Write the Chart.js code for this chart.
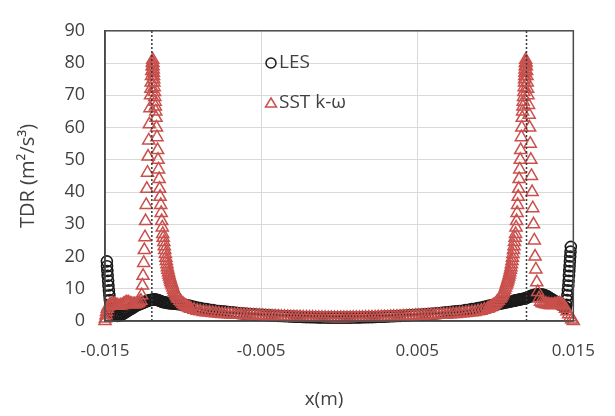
<!DOCTYPE html>
<html>
<head>
<meta charset="utf-8">
<script src="https://cdn.jsdelivr.net/npm/chart.js@4.4.1/dist/chart.umd.min.js"></script>
<style>
  html, body { margin: 0; padding: 0; background: #fff; }
  #wrap { width: 615px; height: 416px; position: relative; }
</style>
</head>
<body>
<div id="wrap"><canvas id="tdrChart"></canvas></div>
<script>
// LES profile (black open circles)
const lesX = [
  -0.01488, -0.01487, -0.01485, -0.01483, -0.0148, -0.01478, -0.01475, -0.01472, -0.01469, -0.01466, -0.01462,
  -0.0146, -0.0145, -0.0144, -0.0143, -0.0142, -0.0141, -0.014, -0.0139, -0.0138, -0.0137, -0.0136, -0.0135,
  -0.0134, -0.0133, -0.0132, -0.0131, -0.013, -0.0129, -0.0128, -0.0127, -0.0126, -0.0125, -0.0124, -0.0123,
  -0.0122, -0.0121, -0.012, -0.0119, -0.0118, -0.0117, -0.0116, -0.0115, -0.0114, -0.0113, -0.0112, -0.0111,
  -0.011, -0.0109, -0.0108, -0.0107, -0.0106, -0.0105, -0.0104, -0.0103, -0.0102, -0.0101, -0.01, -0.0099,
  -0.0098, -0.0097, -0.0096, -0.0095, -0.0093, -0.0091, -0.0089, -0.0087, -0.0085, -0.0083, -0.0081, -0.0079,
  -0.0077, -0.0075, -0.0073, -0.0071, -0.0069, -0.0067, -0.0065, -0.0063, -0.0061, -0.0059, -0.0057, -0.0055,
  -0.0053, -0.0051, -0.0049, -0.0047, -0.0045, -0.0043, -0.0041, -0.0039, -0.0037, -0.0035, -0.0033, -0.0031,
  -0.0029, -0.0027, -0.0025, -0.0023, -0.0021, -0.0019, -0.0017, -0.0015, -0.0013, -0.0011, -0.0009, -0.0007,
  -0.0005, -0.0003, -0.0001,
  0.0001, 0.0003, 0.0005, 0.0007, 0.0009, 0.0011, 0.0013, 0.0015, 0.0017, 0.0019, 0.0021, 0.0023,
  0.0025, 0.0027, 0.0029, 0.0031, 0.0033, 0.0035, 0.0037, 0.0039, 0.0041, 0.0043, 0.0045, 0.0047,
  0.0049, 0.0051, 0.0053, 0.0055, 0.0057, 0.0059, 0.0061, 0.0063, 0.0065, 0.0067, 0.0069, 0.0071,
  0.0073, 0.0075, 0.0077, 0.0079, 0.0081, 0.0083, 0.0085, 0.0087, 0.0089, 0.0091, 0.0093, 0.0095,
  0.0096, 0.0097, 0.0098, 0.0099, 0.01, 0.0101, 0.0102, 0.0103, 0.0104, 0.0105, 0.0106, 0.0107,
  0.0108, 0.0109, 0.011, 0.0111, 0.0112, 0.0113, 0.0114, 0.0115, 0.0116, 0.0117, 0.0118, 0.0119,
  0.012, 0.0121, 0.0122, 0.0123, 0.0124, 0.0125, 0.0126, 0.0127, 0.0128, 0.0129, 0.013, 0.0131,
  0.0132, 0.0133, 0.0134, 0.0135, 0.0136, 0.0137, 0.0138, 0.0139, 0.014, 0.0141, 0.0142, 0.0143,
  0.0144, 0.0145, 0.01452, 0.01456, 0.01459, 0.01462, 0.01465, 0.01468, 0.0147, 0.01472, 0.01474,
  0.01476, 0.01478, 0.0148, 0.01482, 0.01484
];
const lesY = [
  18.5, 17, 15.5, 14, 12.5, 11, 9.5, 8, 6.5, 5, 3.8,
  2.8, 2.3, 1.9, 1.7, 1.6, 1.7, 1.9, 2.1, 2.4, 2.7, 3.0, 3.3,
  3.6, 3.9, 4.2, 4.5, 4.8, 5.0, 5.2, 5.4, 5.6, 5.8, 6.0, 6.2,
  6.4, 6.5, 6.6, 6.7, 6.7, 6.6, 6.5, 6.3, 6.1, 5.9, 5.8, 5.7,
  5.6, 5.55, 5.5, 5.45, 5.4, 5.35, 5.3, 5.25, 5.2, 5.15, 5.1, 5.0,
  4.9, 4.8, 4.7, 4.6, 4.4, 4.2, 4.0, 3.8, 3.7, 3.5, 3.4, 3.2,
  3.1, 3.0, 2.9, 2.8, 2.7, 2.6, 2.5, 2.4, 2.3, 2.2, 2.15, 2.1,
  2.0, 1.95, 1.9, 1.85, 1.8, 1.7, 1.65, 1.6, 1.55, 1.5, 1.45, 1.4,
  1.35, 1.3, 1.3, 1.25, 1.2, 1.2, 1.15, 1.15, 1.1, 1.1, 1.1, 1.05,
  1.05, 1.05, 1.05,
  1.05, 1.05, 1.05, 1.05, 1.1, 1.1, 1.1, 1.15, 1.15, 1.2, 1.2, 1.25,
  1.3, 1.3, 1.35, 1.4, 1.45, 1.5, 1.55, 1.6, 1.65, 1.7, 1.8, 1.85,
  1.9, 1.95, 2.0, 2.1, 2.15, 2.2, 2.3, 2.4, 2.5, 2.6, 2.7, 2.8,
  2.9, 3.0, 3.1, 3.2, 3.4, 3.5, 3.7, 3.8, 4.0, 4.2, 4.4, 4.6,
  4.7, 4.8, 4.9, 5.0, 5.1, 5.2, 5.3, 5.4, 5.5, 5.6, 5.7, 5.8,
  5.9, 6.0, 6.1, 6.2, 6.3, 6.4, 6.5, 6.6, 6.7, 6.8, 6.9, 7.0,
  7.2, 7.4, 7.6, 7.8, 8.0, 8.1, 8.2, 8.3, 8.3, 8.3, 8.2, 8.1,
  7.9, 7.7, 7.4, 7.1, 6.8, 6.5, 6.2, 5.9, 5.6, 5.3, 5.0, 4.7,
  4.4, 4.1, 4, 5, 6.5, 8, 9.5, 11, 12.5, 14, 15.5,
  17, 18.5, 20, 21.5, 23
];

// SST k-omega profile (red open triangles)
const sstX = [
  -0.015, -0.01497, -0.01493, -0.0149, -0.01485, -0.0148, -0.0147, -0.0146, -0.0145, -0.0144, -0.0143,
  -0.0142, -0.0141, -0.014, -0.0139, -0.0138, -0.0137, -0.0136, -0.0135, -0.0134, -0.0133, -0.0132,
  -0.0131, -0.013, -0.0129, -0.0128, -0.0127,
  -0.01265, -0.0126, -0.01256, -0.01252, -0.01248, -0.01244, -0.0124, -0.01236, -0.01232, -0.01228,
  -0.01224, -0.0122, -0.01216, -0.01212, -0.01208, -0.01206, -0.01204, -0.01202, -0.012, -0.01198,
  -0.01196, -0.01194,
  -0.01193, -0.01192, -0.01191, -0.0119, -0.01189, -0.01188, -0.01187, -0.01185, -0.01183, -0.01181,
  -0.01179, -0.01177, -0.01175, -0.01173, -0.0117, -0.01167, -0.01163, -0.0116, -0.01157, -0.01153,
  -0.0115, -0.01147, -0.01143, -0.0114, -0.01137, -0.01133, -0.0113, -0.01127, -0.01123, -0.0112,
  -0.01117, -0.01113, -0.0111, -0.01107, -0.01103, -0.011, -0.01097, -0.01093, -0.0109, -0.01087,
  -0.01083, -0.0108, -0.01077, -0.01073, -0.0107, -0.01065, -0.0106, -0.01055, -0.0105, -0.01045,
  -0.0104, -0.01035, -0.0103, -0.0102, -0.0101,
  -0.01, -0.0099, -0.0098, -0.0097, -0.0096, -0.0095, -0.0093, -0.0091, -0.0089, -0.0087, -0.0085,
  -0.0083, -0.0081, -0.0079, -0.0077, -0.0075, -0.0073, -0.0071, -0.0069, -0.0067, -0.0065, -0.0063,
  -0.0061, -0.0059, -0.0057, -0.0055, -0.0053, -0.0051, -0.0049, -0.0047, -0.0045, -0.0043, -0.0041,
  -0.0039, -0.0037, -0.0035, -0.0033, -0.0031, -0.0029, -0.0027, -0.0025, -0.0023, -0.0021, -0.0019,
  -0.0017, -0.0015, -0.0013, -0.0011, -0.0009, -0.0007, -0.0005, -0.0003, -0.0001,
  0.0001, 0.0003, 0.0005, 0.0007, 0.0009, 0.0011, 0.0013, 0.0015, 0.0017, 0.0019, 0.0021, 0.0023,
  0.0025, 0.0027, 0.0029, 0.0031, 0.0033, 0.0035, 0.0037, 0.0039, 0.0041, 0.0043, 0.0045, 0.0047,
  0.0049, 0.0051, 0.0053, 0.0055, 0.0057, 0.0059, 0.0061, 0.0063, 0.0065, 0.0067, 0.0069, 0.0071,
  0.0073, 0.0075, 0.0077, 0.0079, 0.0081, 0.0083, 0.0085, 0.0087, 0.0089, 0.0091, 0.0093, 0.0095,
  0.0096, 0.0097, 0.0098, 0.0099, 0.01, 0.0101, 0.0102,
  0.0103, 0.01035, 0.0104, 0.01045, 0.0105, 0.01055, 0.0106, 0.01065, 0.0107, 0.01073, 0.01077,
  0.0108, 0.01083, 0.01087, 0.0109, 0.01093, 0.01097, 0.011, 0.01103, 0.01107, 0.0111, 0.01113,
  0.01117, 0.0112, 0.01123, 0.01127, 0.0113, 0.01133, 0.01137, 0.0114, 0.01143, 0.01147, 0.0115,
  0.01153, 0.01157, 0.0116, 0.01163, 0.01167, 0.0117, 0.01173, 0.01175, 0.01177, 0.01179, 0.01181,
  0.01183, 0.01185, 0.01187, 0.01188, 0.01189, 0.0119, 0.01191, 0.01192, 0.01193, 0.01195,
  0.01197, 0.01199, 0.01201, 0.01203, 0.01205, 0.01207, 0.0121, 0.01213, 0.01217, 0.0122, 0.01224,
  0.01228, 0.01232, 0.01236, 0.0124, 0.01245, 0.0125, 0.01255, 0.0126, 0.01266, 0.01272, 0.0128,
  0.0129, 0.013, 0.0131, 0.0132, 0.0133, 0.0134, 0.0135, 0.0136, 0.0137, 0.0138, 0.0139, 0.014,
  0.0141, 0.0142, 0.0143, 0.0144, 0.0145, 0.0146, 0.0147, 0.0148, 0.0149, 0.015
];
const sstY = [
  0, 0.8, 1.8, 2.8, 3.8, 4.5, 5.0, 5.3, 5.4, 5.2, 5.0,
  4.8, 4.7, 4.8, 5.0, 5.3, 5.6, 5.8, 5.7, 5.5, 5.3, 5.2,
  5.2, 5.3, 5.5, 5.8, 6.3,
  8, 11, 14, 18, 22, 26, 31, 36, 41, 46,
  51, 56, 61, 66, 70, 72, 74, 76, 77.5, 79,
  80.2, 81,
  80, 79, 78, 77, 76, 75, 74, 72.5, 71, 69.5,
  68, 66.5, 65, 63, 60, 57, 53, 50, 47, 44,
  41, 38.5, 36, 33.5, 31, 29, 27, 25.8, 24.5, 23.2,
  22, 20.8, 19.6, 18.6, 17.6, 16.7, 15.9, 15.1, 14.4, 13.8,
  13.2, 12.6, 12.1, 11.6, 11.1, 10.4, 9.7, 9.1, 8.6, 8.1,
  7.7, 7.3, 6.9, 6.3, 5.8,
  5.3, 4.9, 4.6, 4.3, 4.0, 3.8, 3.5, 3.2, 3.0, 2.8, 2.7,
  2.6, 2.5, 2.4, 2.3, 2.2, 2.15, 2.1, 2.05, 2.0, 1.95, 1.9,
  1.85, 1.8, 1.75, 1.7, 1.65, 1.6, 1.55, 1.5, 1.45, 1.4, 1.4,
  1.35, 1.3, 1.3, 1.25, 1.2, 1.2, 1.15, 1.15, 1.1, 1.1, 1.05,
  1.05, 1.0, 1.0, 1.0, 1.0, 0.95, 0.95, 0.95, 0.95,
  0.95, 0.95, 0.95, 0.95, 1.0, 1.0, 1.0, 1.0, 1.05, 1.05, 1.1, 1.1,
  1.15, 1.15, 1.2, 1.2, 1.25, 1.3, 1.3, 1.35, 1.4, 1.4, 1.45, 1.5,
  1.55, 1.6, 1.65, 1.7, 1.75, 1.8, 1.85, 1.9, 1.95, 2.0, 2.05, 2.1,
  2.15, 2.2, 2.3, 2.4, 2.5, 2.6, 2.7, 2.8, 3.0, 3.2, 3.5, 3.8,
  4.0, 4.3, 4.6, 4.9, 5.3, 5.8, 6.3,
  6.9, 7.3, 7.7, 8.1, 8.6, 9.1, 9.7, 10.4, 11.1, 11.6, 12.1,
  12.6, 13.2, 13.8, 14.4, 15.1, 15.9, 16.7, 17.6, 18.6, 19.6, 20.8,
  22, 23.2, 24.5, 25.8, 27, 29, 31, 33.5, 36, 38.5, 41,
  44, 47, 50, 53, 57, 60, 63, 65, 66.5, 68, 69.5,
  71, 72.5, 74, 75, 76, 77, 78, 79, 80, 81,
  80.2, 79, 77.5, 76, 74, 72, 70, 67, 64, 60, 55,
  50, 45, 40, 35, 30, 25, 20, 16, 12, 9, 7,
  6, 5.6, 5.4, 5.3, 5.2, 5.1, 5.0, 5.0, 5.0, 5.1, 5.2, 5.3,
  5.4, 5.3, 5.0, 4.5, 3.8, 3.0, 2.1, 1.2, 0.5, 0
];

// dotted vertical reference lines
const wallX = [-0.012, 0.012];
const wallY = [0, 90];

const xTicks = [-0.015, -0.005, 0.005, 0.015];
const yMin = 0, yMax = 90, yStep = 10;

const LES_COLOR = '#1a1a1a';
const SST_COLOR = '#c9504c';
const TEXT_COLOR = '#404040';

function toPoints(xs, ys) {
    return xs.map((x, i) => ({ x: x, y: ys[i] }));
}

// frame around the plot area, x title and in-plot legend
const frameAndLegend = {
    id: 'frameAndLegend',
    afterDraw(chart) {
        const { ctx, chartArea } = chart;
        ctx.save();
        ctx.strokeStyle = '#4a4a4a';
        ctx.lineWidth = 1.5;
        ctx.strokeRect(chartArea.left, chartArea.top, chartArea.right - chartArea.left, chartArea.bottom - chartArea.top);

        ctx.fillStyle = TEXT_COLOR;
        ctx.textBaseline = 'middle';

        // x axis title (sits a little left of centre in the original)
        ctx.font = '19px "Open Sans"';
        ctx.textAlign = 'center';
        ctx.fillText('x(m)', 324, 400);

        // legend
        ctx.font = '19px "Open Sans"';
        ctx.textAlign = 'left';
        ctx.lineWidth = 1.5;

        ctx.strokeStyle = LES_COLOR;
        ctx.beginPath();
        ctx.arc(271, 63, 5, 0, Math.PI * 2);
        ctx.stroke();
        ctx.fillText('LES', 279, 63);

        ctx.strokeStyle = SST_COLOR;
        ctx.beginPath();
        ctx.moveTo(271, 98);
        ctx.lineTo(276.5, 107);
        ctx.lineTo(265.5, 107);
        ctx.closePath();
        ctx.stroke();
        ctx.fillText('SST k-\u03c9', 279, 103);
        ctx.restore();
    }
};

document.addEventListener('DOMContentLoaded', function() {
    const ctx = document.getElementById('tdrChart').getContext('2d');

    new Chart(ctx, {
        type: 'scatter',
        data: {
            datasets: [
                {
                    label: 'wall L',
                    type: 'line',
                    data: toPoints([wallX[0], wallX[0]], wallY),
                    borderColor: '#3a3a3a',
                    borderWidth: 1.5,
                    borderDash: [2, 2],
                    pointRadius: 0,
                    clip: false,
                    order: -1
                },
                {
                    label: 'wall R',
                    type: 'line',
                    data: toPoints([wallX[1], wallX[1]], wallY),
                    borderColor: '#3a3a3a',
                    borderWidth: 1.5,
                    borderDash: [2, 2],
                    pointRadius: 0,
                    clip: false,
                    order: -1
                },
                {
                    label: 'SST k-\u03c9',
                    data: toPoints(sstX, sstY),
                    pointStyle: 'triangle',
                    pointRadius: 7,
                    borderColor: SST_COLOR,
                    backgroundColor: 'rgba(255,255,255,0)',
                    borderWidth: 1.5,
                    clip: false,
                    order: 0
                },
                {
                    label: 'LES',
                    data: toPoints(lesX, lesY),
                    pointStyle: 'circle',
                    pointRadius: 5.5,
                    borderColor: LES_COLOR,
                    backgroundColor: 'rgba(255,255,255,0)',
                    borderWidth: 1.6,
                    clip: false,
                    order: 1
                }
            ]
        },
        options: {
            responsive: true,
            maintainAspectRatio: false,
            animation: false,
            layout: { padding: { top: 17, right: 35, left: 0, bottom: 0 } },
            plugins: {
                legend: { display: false },
                tooltip: { enabled: false }
            },
            scales: {
                x: {
                    type: 'linear',
                    min: xTicks[0],
                    max: xTicks[xTicks.length - 1],
                    afterBuildTicks: function(scale) {
                        scale.ticks = xTicks.map(v => ({ value: v }));
                    },
                    afterFit: function(scale) { scale.height = 95; },
                    grid: { color: '#d9d9d9', lineWidth: 1, drawTicks: false },
                    border: { color: '#404040', width: 1.5 },
                    ticks: {
                        color: TEXT_COLOR,
                        padding: 20,
                        font: { family: 'Open Sans', size: 17 },
                        maxRotation: 0,
                        callback: function(value) { return value.toFixed(3); }
                    }
                },
                y: {
                    min: yMin,
                    max: yMax,
                    afterFit: function(scale) { scale.width = 105; },
                    grid: { color: '#d9d9d9', lineWidth: 1, drawTicks: false },
                    border: { color: '#404040', width: 1.5 },
                    ticks: {
                        stepSize: yStep,
                        color: TEXT_COLOR,
                        padding: 20,
                        font: { family: 'Open Sans', size: 18 }
                    },
                    title: {
                        display: true,
                        text: 'TDR (m\u00b2/s\u00b3)',
                        color: TEXT_COLOR,
                        font: { family: 'Open Sans', size: 20 },
                        padding: { top: 16, bottom: 4 }
                    }
                }
            }
        },
        plugins: [frameAndLegend]
    });
});
</script>
</body>
</html>
